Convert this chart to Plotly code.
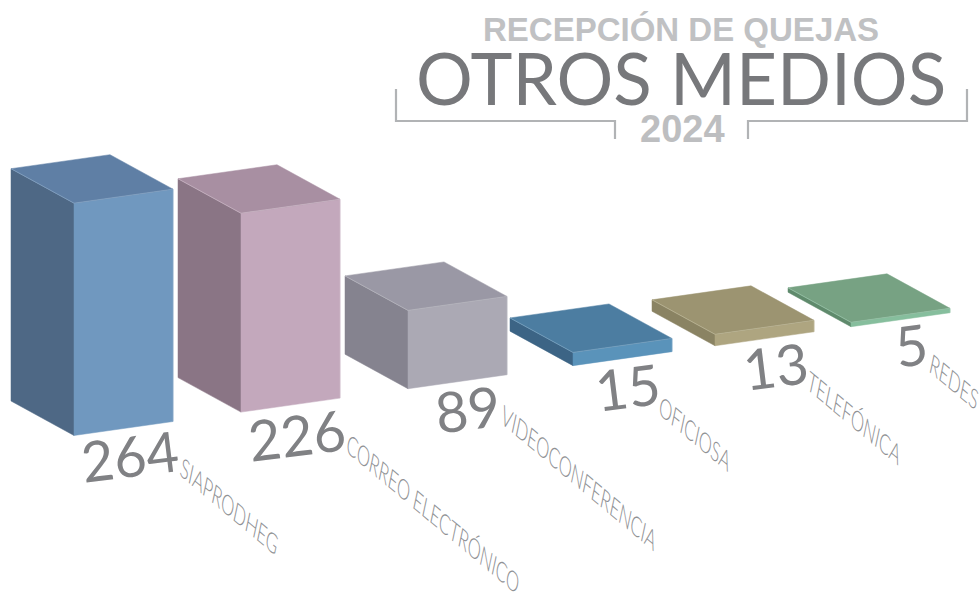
import json
import plotly.graph_objects as go

# --- data ---
categories = ["SIAPRODHEG", "CORREO ELECTRÓNICO", "VIDEOCONFERENCIA", "OFICIOSA", "TELEFÓNICA", "REDES"]
values = [264, 226, 89, 15, 13, 5]
title_top = "RECEPCIÓN DE QUEJAS"
title_main = "OTROS MEDIOS"
title_year = "2024"

# --- styles ---
front_colors = ["#7098BF", "#C3A8BC", "#ABA9B4", "#5A93BA", "#AEA580", "#86BE9D"]
top_colors = ["#5F7FA5", "#A88FA2", "#9A98A5", "#4C7DA1", "#9C9471", "#77A283"]
side_colors = ["#4E6885", "#8A7585", "#85838F", "#3C6485", "#8A8363", "#5F8A6C"]
edge_colors = ["#8FADCB", "#D0BECB", "#BEBDC5", "#84ADC9", "#C3BD9F", "#A0CBB2"]

# --- layout of the oblique projection (page units) ---
W, H = 979, 593
row_pos = [0, 167, 334, 499, 641, 777]
origin = (74, 435.5)
slope = -0.14
unit = 0.88
front_vec = (99, -14)
side_vec = (-63, -34.5)

value_pos = [(129, 455), (296, 434), (467, 408), (627, 386), (775, 365), (911, 344)]
label_pos = [(229, 505), (433, 513), (579, 477), (695, 433), (854, 417), (954, 381)]

fig = go.Figure()


def poly(xs, ys, color):
    fig.add_trace(go.Scatter(x=xs + xs[:1], y=ys + ys[:1], mode="lines", fill="toself",
                             fillcolor=color, line=dict(color=color, width=0.5),
                             hoverinfo="skip", showlegend=False))


for i, v in enumerate(values):
    bx = origin[0] + row_pos[i]
    by = origin[1] + slope * row_pos[i]
    h = v * unit
    fx, fy = front_vec
    sx, sy = side_vec
    poly([bx, bx + sx, bx + sx, bx], [by, by + sy, by + sy - h, by - h], side_colors[i])
    poly([bx, bx + fx, bx + fx, bx], [by, by + fy, by + fy - h, by - h], front_colors[i])
    poly([bx, bx + fx, bx + fx + sx, bx + sx],
         [by - h, by + fy - h, by + fy + sy - h, by + sy - h], top_colors[i])
    fig.add_trace(go.Scatter(x=[bx + sx, bx, bx + fx, bx + fx], y=[by + sy - h, by - h, by + fy - h, by + fy],
                             mode="lines", line=dict(color=edge_colors[i], width=0.6),
                             hoverinfo="skip", showlegend=False))

# title bracket
for xs, ys in [([396, 396, 615, 615], [89, 121, 121, 139]), ([967, 967, 748, 748], [89, 121, 121, 139])]:
    fig.add_trace(go.Scatter(x=xs, y=ys, mode="lines", line=dict(color="#B1B3B5", width=2.2),
                             hoverinfo="skip", showlegend=False))


def note(text, x, y, size, color, family, angle=0, weight=None):
    font = dict(size=size, color=color, family=family)
    if weight:
        font["weight"] = weight
    fig.add_annotation(x=x, y=y, xref="x", yref="y", text=text, showarrow=False,
                       xanchor="center", yanchor="middle", textangle=angle, font=font)


sans = "Liberation Sans, Arial, sans-serif"
note(f"<b>{title_top}</b>", 681, 29, 33, "#C0C1C3", sans)
note(title_main, 681, 77, 71, "#77787B", "Lato, sans-serif")
note(f"<b>{title_year}</b>", 682, 129, 38, "#BDBEC0", sans)

for i, c in enumerate(categories):
    note(str(values[i]), value_pos[i][0], value_pos[i][1], 56, "#808184", "Lato, sans-serif", -7)
    note(c, label_pos[i][0], label_pos[i][1], 23, "#8F9194", "Lato, sans-serif", 40, 300)

fig.update_layout(
    width=W, height=H, margin=dict(l=0, r=0, t=0, b=0),
    paper_bgcolor="white", plot_bgcolor="white", showlegend=False,
    xaxis=dict(range=[0, W], visible=False, fixedrange=True),
    yaxis=dict(range=[H, 0], visible=False, fixedrange=True),
)

# the reference's labels are sheared and condensed: keep them real text, adjust glyph shape only
post = """
document.body.style.margin='0';document.body.style.overflow='hidden';
var labels = %s;
document.querySelectorAll('.annotation-text').forEach(function(t){
  if (labels.indexOf(t.textContent) >= 0) {
    t.style.transformBox='fill-box';
    t.style.transformOrigin='center';
    t.style.transform='skewX(28deg) scaleX(0.88)';
    t.style.opacity='0.99';
  }
});
""" % json.dumps(categories, ensure_ascii=False)
fig.write_html("out.html", config={"displayModeBar": False}, post_script=post)
